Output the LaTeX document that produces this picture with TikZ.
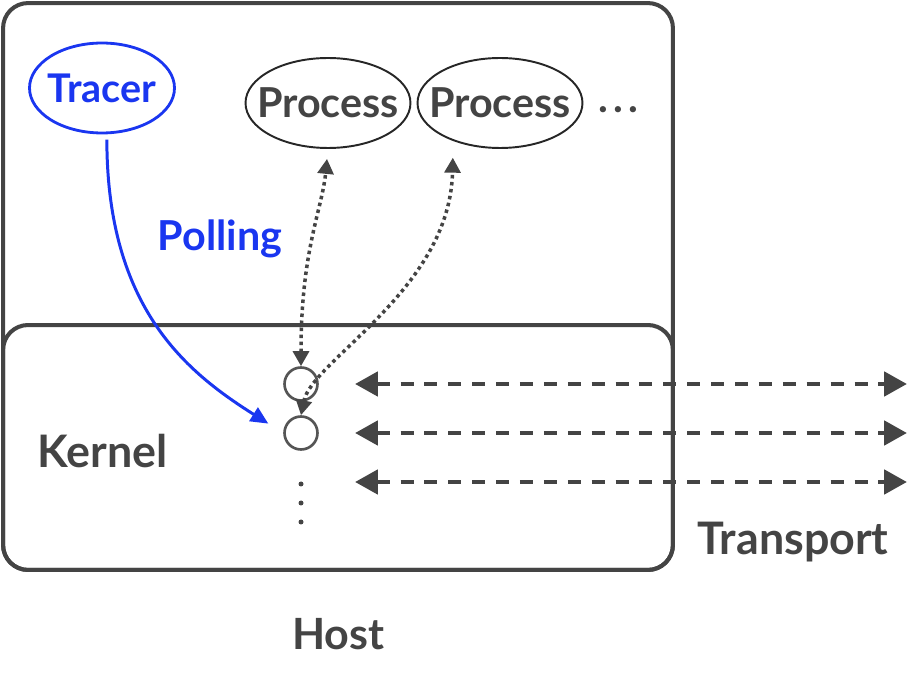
\documentclass[tikz,border=0pt]{standalone}
\usepackage{fontspec}
\setmainfont{Lato}
\usetikzlibrary{arrows.meta,shapes.geometric}
\definecolor{hostgray}{HTML}{444444}
\definecolor{slotgray}{HTML}{555555}
\definecolor{tracerblue}{HTML}{1A36F0}
\tikzset{
boxnode/.style={rectangle, draw=hostgray, line width=2.3pt, rounded corners=0.5cm, inner sep=0pt},
procnode/.style={ellipse, draw=black!85, line width=1.1pt, inner xsep=-0.25cm, inner ysep=0pt, minimum width=3.3cm, minimum height=1.8cm, text=hostgray, font=\fontsize{23.5}{28}\selectfont\bfseries},
tracernode/.style={ellipse, draw=tracerblue, line width=1.6pt, inner xsep=-0.1cm, inner ysep=0pt, minimum width=2.9cm, minimum height=1.8cm, text=tracerblue, font=\fontsize{22.5}{27}\selectfont\bfseries},
slotnode/.style={circle, draw=slotgray, line width=1.5pt, inner sep=0pt, minimum size=0.66cm},
dotnode/.style={circle, fill=hostgray, inner sep=0pt, minimum size=0.1cm},
labeltext/.style={text=hostgray, font=\fontsize{25.5}{30}\selectfont\bfseries},
transarrow/.style={{Triangle[length=13pt,width=13.6pt]}-{Triangle[length=13pt,width=13.6pt]}, draw=hostgray, line width=2.8pt, dash pattern=on 7.4pt off 6.2pt},
procarrow/.style={{Triangle[length=8.5pt,width=9pt]}-{Triangle[length=8.5pt,width=9pt]}, draw=hostgray, line width=2pt, dash pattern=on 2pt off 2pt},
pollarrow/.style={-{Triangle[length=10pt,width=9pt]}, draw=tracerblue, line width=1.7pt},
}
\begin{document}
\begin{tikzpicture}[x=0.02cm,y=-0.02cm]
\useasboundingbox (0,0) rectangle (910,675);
\node[boxnode, minimum width=13.4cm, minimum height=11.34cm] at (338,286.5) (host) {};
\node[boxnode, minimum width=13.4cm, minimum height=4.9cm] at (338,447.5) (kernel) {};

\node[tracernode] at (102,88) (tracer) {Tracer};
\node[procnode] at (328,103) (p1) {Process};
\node[procnode] at (500,103) (p2) {Process};
\node[labeltext, font=\fontsize{23.5}{28}\selectfont\bfseries] at (618,110) (more) {.\kern3pt.\kern3pt.};

\node[slotnode] at (301,384) (c1) {};
\node[slotnode] at (301,433) (c2) {};
\foreach \y/\n in {484/1,503/2,522/3}
  \node[dotnode] at (301,\y) (d\n) {};

\node[labeltext, text=tracerblue, font=\fontsize{23.5}{28}\selectfont\bfseries] at (220,239) (polling) {Polling};
\node[labeltext] at (102.5,451) (kernellabel) {Kernel};
\node[labeltext] at (793,542) (transport) {Transport};
\node[labeltext, font=\fontsize{24.5}{29}\selectfont\bfseries] at (338.5,634) (hostlabel) {Host};

\draw[pollarrow, shorten <=3pt, shorten >=10pt] (tracer.276) .. controls +(0,175) and +(-95,-60) .. (c2.west);
\draw[procarrow, shorten >=5.7pt] (c1.north) .. controls (301,250) and (322,210) .. (p1.south);
\draw[procarrow, shorten >=5pt] (c2.north) .. controls (312,360) and (450,290) .. ([xshift=-0.94cm]p2.south);

\foreach \y/\n in {384/1,433/2,482/3}{
  \coordinate (tl\n) at (355,\y);
  \coordinate (tr\n) at (907,\y);
  \draw[transarrow] (tl\n) -- (tr\n);
}
\end{tikzpicture}
\end{document}
